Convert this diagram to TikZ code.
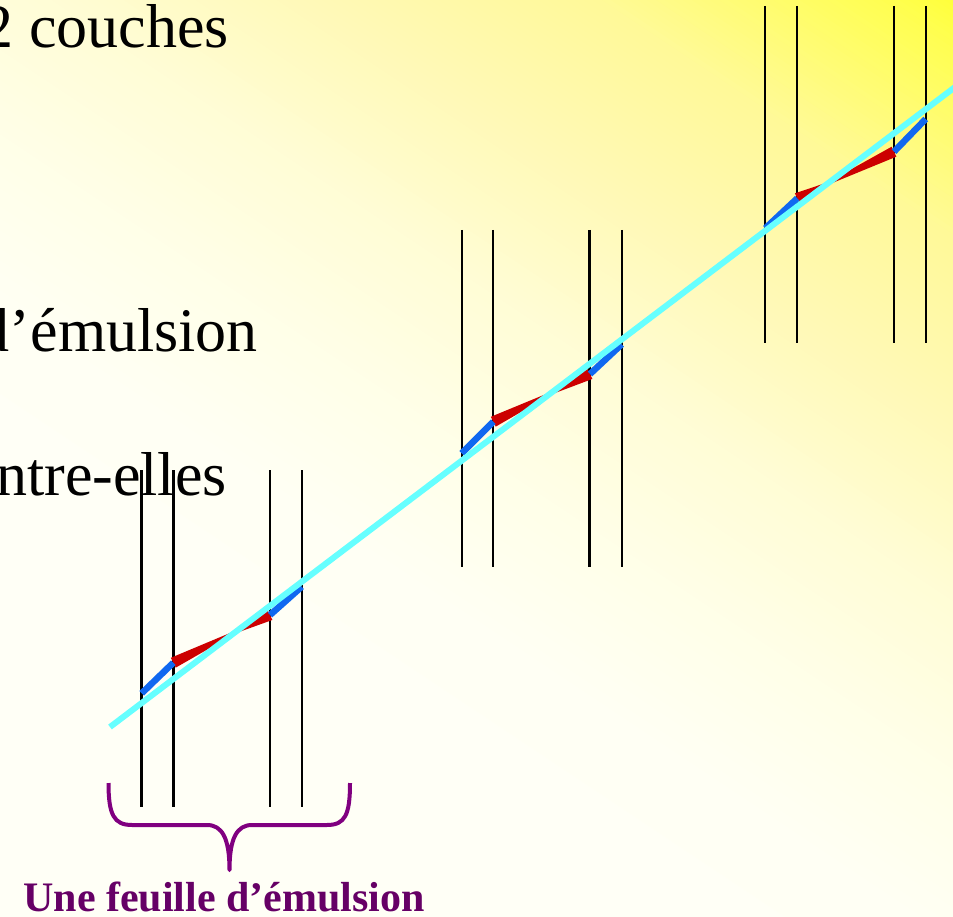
\documentclass[tikz,border=0pt]{standalone}
\usepackage{fontspec}
\setmainfont{Liberation Serif}
\usetikzlibrary{calc}
\definecolor{trkred}{RGB}{204,0,0}
\definecolor{trkblue}{RGB}{16,104,240}
\definecolor{trkcyan}{RGB}{102,255,255}
\definecolor{bracepurple}{RGB}{128,0,128}
\definecolor{labelpurple}{RGB}{102,0,102}
\definecolor{bgpale}{RGB}{255,255,246}
\begin{document}
\begin{tikzpicture}[x=1pt,y=-1pt,
  layer/.style={line width=2.2pt, black},
  bluetrk/.style={line width=6.5pt, trkblue},
  redtrk/.style={fill=trkred},
  cyantrk/.style={line width=6pt, trkcyan},
  bracestyle/.style={line width=4pt, bracepurple, line join=round},
  bigtext/.style={font=\fontsize{62}{70}\selectfont, inner sep=0pt, anchor=base east},
  ]
\useasboundingbox (0,0) rectangle (953,917);
% background gradient
\begin{scope}
\clip (0,0) rectangle (953,917);
\fill[bgpale] (0,0) rectangle (953,917);
\begin{scope}[shift={(953,0)}, rotate=-33.69]
\foreach \i in {0,...,170}{
  \pgfmathsetmacro\d{5*\i}
  \pgfmathtruncatemacro\B{\d<33.3 ? 60+0.6*\d : (\d<194 ? 80+0.448*(\d-33.3) : (\d<333 ? 152+0.2014*(\d-194) : (\d<499 ? 180+0.2048*(\d-333) : (\d<638 ? 214+0.1295*(\d-499) : (\d<776.5 ? 232+0.0866*(\d-638) : 244+0.01*(\d-776.5))))))}
  \pgfmathtruncatemacro\G{\d<33.3 ? 255 : (\d<194 ? 255-0.0311*(\d-33.3) : (\d<333 ? 250-0.0072*(\d-194) : (\d<499 ? 249+0.0241*(\d-333) : (\d<638 ? 253+0.0144*(\d-499) : 255))))}
  \definecolor{stripe}{RGB}{255,\G,\B}
  \fill[stripe] (-1500,\d) rectangle (1500,\d+6);
}
\end{scope}
\end{scope}

% texts (cut at the left border, as in the reference)
\node[bigtext] (t1) at (229,48) {2 couches};
\node[bigtext] (t2) at (258,352) {d’émulsion};
\node[bigtext] (t3) at (227,495) {ntre-elles};

% emulsion layers
\foreach \g/\xa/\xb/\xc/\xd/\yt in {1/141.5/173.5/270/302/470, 2/461.7/493.3/589.5/621.7/230, 3/765.3/797.3/893.7/925.7/6}{
  \foreach \k/\x in {1/\xa,2/\xb,3/\xc,4/\xd}{
    \coordinate (L\g\k t) at (\x,\yt);
    \coordinate (L\g\k b) at (\x,\yt+337);
    \draw[layer] (L\g\k t) -- (L\g\k b);
  }
}

% track points
\coordinate (a1) at (141.7,693.3); \coordinate (b1) at (173.3,662.7);
\coordinate (c1) at (270,615);     \coordinate (e1) at (301.7,586.7);
\coordinate (a2) at (461.7,453.3); \coordinate (b2) at (493.3,421.7);
\coordinate (c2) at (590,374);     \coordinate (e2) at (621.7,344.3);
\coordinate (a3) at (765.3,228.3); \coordinate (b3) at (797.3,198.3);
\coordinate (c3) at (894,151.7);   \coordinate (e3) at (925.7,119);
\coordinate (cyA) at (110,727);
\coordinate (cyB) at (960,83.3);

% red tapered segments and blue segments
\foreach \g/\f in {1/0.645,2/0.595,3/0.32}{
  \coordinate (m\g) at ($(b\g)!\f!(c\g)$);
  \fill[redtrk] ($(b\g)!5.5pt!90:(c\g)$) -- ($(m\g)!1.2pt!90:(c\g)$) -- ($(c\g)!5.5pt!-90:(b\g)$)
     -- ($(c\g)!5.5pt!90:(b\g)$) -- ($(m\g)!1.2pt!-90:(c\g)$) -- ($(b\g)!5.5pt!-90:(c\g)$) -- cycle;
  \draw[bluetrk] (a\g) -- (b\g);
  \draw[bluetrk] (c\g) -- (e\g);
}

% fitted straight track
\draw[cyantrk] (cyA) -- (cyB);

% brace
\coordinate (brL) at (108.5,783);
\coordinate (brTip) at (229.5,870);
\coordinate (brR) at (350,783);
\draw[bracestyle] (brL) .. controls (108.5,815) and (114,825) .. (132,825) -- (207,825)
   .. controls (222,825) and (229.5,838) .. (brTip)
   .. controls (229.5,838) and (237,825) .. (252,825) -- (327,825)
   .. controls (345,825) and (350,815) .. (brR);

\node[font=\bfseries\fontsize{42}{48}\selectfont, text=labelpurple, anchor=base, inner sep=0pt] (label) at (224,911) {Une feuille d’émulsion};
\end{tikzpicture}
\end{document}
